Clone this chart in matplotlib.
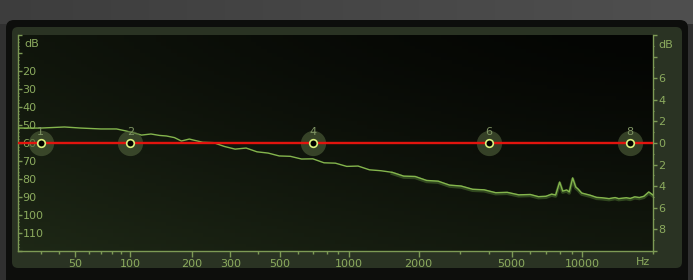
import numpy as np
import matplotlib.pyplot as plt
from matplotlib.patches import FancyBboxPatch
from matplotlib.ticker import FixedLocator, FixedFormatter, NullFormatter

# analyser spectrum (Hz, dB)
freq = [20, 30, 43, 54, 70, 85, 95, 105, 114, 127, 140, 151, 165, 178, 194,
        200, 224, 251, 281, 315, 353, 395, 443, 496, 555, 622, 697, 780, 874,
        979, 1096, 1228, 1375, 1540, 1725, 1932, 2164, 2424, 2715, 3040, 3405,
        3814, 4272, 4785, 5359, 6002, 6500, 7000, 7405, 7700, 8009, 8250, 8582,
        8800, 9100, 9372, 9600, 9941, 10800, 11500, 12095, 13000, 13800, 14289,
        15400, 16000, 16721, 17500, 18300, 19187, 20000]
level = [-51.7, -51.7, -51.1, -51.7, -52.2, -52.2, -53.3, -54.5, -55.6, -55.0,
         -55.8, -56.1, -57.0, -58.9, -57.8,
         -58.2, -59.6, -59.8, -61.9, -63.4, -62.8, -64.9, -65.6, -67.2, -67.4,
         -68.9, -68.8, -71.0, -71.2, -73.0, -72.8, -74.9, -75.4, -76.3, -78.4,
         -78.6, -80.8, -81.2, -83.4, -83.9, -85.7, -86.0, -87.6, -87.4, -88.8,
         -88.6, -89.8, -89.6, -88.4, -88.9, -81.7, -86.7, -86.1, -87.2, -79.4,
         -84.4, -85.6, -87.8, -89.0, -90.2, -90.4, -90.9, -90.3, -90.9, -90.4,
         -90.8, -89.9, -90.3, -89.6, -87.2, -88.9]

# eq bands (all flat)
band_ids = ['1', '2', '4', '6', '8']
band_freq = [30, 100, 700, 4000, 16000]
band_gain = [0, 0, 0, 0, 0]
eq_freq = [20, 20000]
eq_gain = [0, 0]

x_major = [50, 100, 200, 300, 500, 1000, 2000, 5000, 10000]
x_minor = [30, 40, 60, 70, 80, 90, 400, 600, 700, 800, 900,
           3000, 4000, 6000, 7000, 8000, 9000, 20000]
db_ticks = list(range(0, -121, -10))
db_labels = ['', '', '20', '30', '40', '50', '60', '70', '80', '90', '100', '110', '']
gain_ticks = list(range(-10, 11, 2))
gain_labels = ['', '8', '6', '4', '2', '0', '2', '4', '6', '', '']

txt = '#8cab5e'
axc = '#7d9a55'

fig = plt.figure(figsize=(6.93, 2.8), dpi=100)
fig.patch.set_facecolor('#303030')

# frame
bg = fig.add_axes([0, 0, 1, 1])
top = np.linspace(0.24, 0.31, 200)[None, :, None] * np.ones((1, 1, 3))
bg.imshow(top, extent=(0, 693, 24, 0), aspect='auto')
bg.add_patch(FancyBboxPatch((6, 20), 682, 275, boxstyle='round,pad=0,rounding_size=8',
                            fc='#0d0e0c', ec='none'))
bg.add_patch(FancyBboxPatch((12, 27), 670, 241, boxstyle='round,pad=0,rounding_size=6',
                            fc='#2a3323', ec='none'))
bg.set_xlim(0, 693)
bg.set_ylim(280, 0)
bg.axis('off')

ax = fig.add_axes([18 / 693, 29 / 280, 635 / 693, 216 / 280])
ax.patch.set_visible(False)
u = np.linspace(0, 1, 120)[None, :]
v = np.linspace(1, 0, 60)[:, None]
t = np.clip(0.55 * (1 - v) ** 1.3 + 0.45 * (1 - u) ** 1.5, 0, 1)
dark = np.array([4, 5, 3]) / 255
green = np.array([30, 40, 22]) / 255
grad = dark + t[..., None] * (green - dark)
ax.imshow(grad, extent=(0, 1, 0, 1), transform=ax.transAxes, aspect='auto', zorder=0)

ax.set_xscale('function', functions=(lambda f: np.log10(np.asarray(f) + 20),
                                     lambda s: 10 ** np.asarray(s) - 20))
hi = [i for i, f in enumerate(freq) if f >= 1500]
ax.plot([freq[i] for i in hi], [level[i] - 0.6 for i in hi], color='#3f5e28',
        lw=2.4, alpha=0.7, zorder=2)
ax.plot(freq, level, color='#84b54d', lw=1.0, zorder=3)
ax.set_xlim(20, 20000)
ax.set_ylim(-120, 0)

ax.xaxis.set_major_locator(FixedLocator(x_major))
ax.xaxis.set_major_formatter(FixedFormatter([str(x) for x in x_major]))
ax.xaxis.set_minor_locator(FixedLocator(x_minor))
ax.xaxis.set_minor_formatter(NullFormatter())
ax.tick_params(axis='x', which='major', direction='out', length=4, width=1,
               color=axc, labelcolor=txt, labelsize=8, pad=1.5)
ax.tick_params(axis='x', which='minor', direction='out', length=2, width=1, color=axc)

ax.yaxis.set_major_locator(FixedLocator(db_ticks))
ax.yaxis.set_major_formatter(FixedFormatter(db_labels))
ax.yaxis.set_minor_locator(FixedLocator(list(range(-120, 1, 2))))
ax.tick_params(axis='y', which='major', direction='in', length=3, width=1,
               color=axc, labelcolor=txt, labelsize=8, pad=-3.2)
ax.tick_params(axis='y', which='minor', direction='in', length=1, width=0.8, color=axc)
for lab in ax.get_yticklabels():
    lab.set_horizontalalignment('left')

for side in ['left', 'bottom', 'right']:
    ax.spines[side].set_color(axc)
    ax.spines[side].set_linewidth(1)
ax.spines['top'].set_visible(False)

ax.text(0.01, -5, 'dB', transform=ax.get_yaxis_transform(), color=txt,
        fontsize=8, va='center', ha='left')
ax.annotate('Hz', xy=(0.984, 0), xycoords='axes fraction', xytext=(0, -8),
            textcoords='offset points', color=txt, fontsize=8, ha='center', va='center')

# eq response on the gain axis
ax2 = ax.twinx()
ax2.set_ylim(-10, 10)
ax2.yaxis.set_major_locator(FixedLocator(gain_ticks))
ax2.yaxis.set_major_formatter(FixedFormatter(gain_labels))
ax2.yaxis.set_minor_locator(FixedLocator(list(range(-10, 11))))
ax2.tick_params(axis='y', which='major', direction='out', length=3, width=1,
                color=axc, labelcolor=txt, labelsize=8, pad=0.8)
ax2.tick_params(axis='y', which='minor', direction='out', length=1, width=0.8, color=axc)
for s in ax2.spines.values():
    s.set_visible(False)
ax2.text(1.008, 9.1, 'dB', transform=ax2.get_yaxis_transform(), color=txt,
         fontsize=8, va='center', ha='left')

ax2.scatter(band_freq, band_gain, s=330, color='#52633c', alpha=0.6, lw=0, zorder=2)
ax2.plot(eq_freq, eq_gain, color='#e2140e', lw=1.7, zorder=3)
ax2.scatter(band_freq, band_gain, s=30, color='black', edgecolor='#d8f07c',
            linewidth=1.2, zorder=4)
for bid, bf, bgain in zip(band_ids, band_freq, band_gain):
    ax2.annotate(bid, xy=(bf, bgain), xytext=(0, 8), textcoords='offset points',
                 color='#7f9463', fontsize=8, ha='center', va='center', zorder=5)

fig.savefig('out.png', dpi=100, facecolor=fig.get_facecolor())
